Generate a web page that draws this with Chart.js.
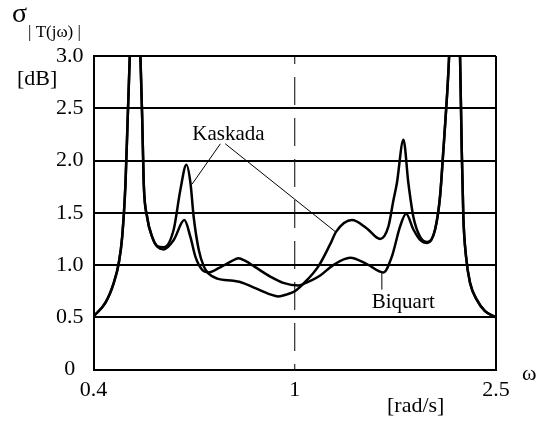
<!DOCTYPE html>
<html>
<head>
<meta charset="utf-8">
<script src="https://cdn.jsdelivr.net/npm/chart.js@4"></script>
<style>
  html, body { margin: 0; padding: 0; background: #fff; }
  #wrap { width: 540px; height: 421px; }
</style>
</head>
<body>
<div id="wrap"><canvas id="myChart" width="540" height="421"></canvas></div>
<script>
// omega [rad/s] and sensitivity [dB]
const kaskadaW = [0.400, 0.4224, 0.4387, 0.4488, 0.4558, 0.4627, 0.4675, 0.4718, 0.4842, 0.4953, 0.4992, 0.5028, 0.5106, 0.5224, 0.5344,
  0.5507, 0.5763, 0.5941, 0.6106, 0.6218, 0.6312, 0.6457, 0.6606, 0.6748, 0.7030, 0.7561, 0.7770, 0.8356, 0.8946, 0.9278, 0.9655, 1.0000,
  1.0394, 1.1143, 1.1752, 1.2077, 1.2971, 1.3887, 1.4752, 1.5320, 1.5672, 1.5916, 1.6402, 1.6779, 1.7164, 1.7696, 1.8293,
  1.8945, 1.9380, 1.9674, 1.9980, 2.0190, 2.0701, 2.1226, 2.1390, 2.1547, 2.1813, 2.2213, 2.2900, 2.3781, 2.5]
const kaskadaDb = [0.51, 0.64, 0.83, 1.02, 1.27, 1.78, 2.42, 2.99, 4.6, 2.99, 2.42, 1.78, 1.46, 1.27, 1.18,
  1.17, 1.34, 1.72, 1.96, 1.79, 1.46, 1.15, 0.99, 0.92, 0.87, 0.85, 0.84, 0.78, 0.72, 0.70, 0.72, 0.75,
  0.82, 0.99, 1.20, 1.32, 1.43, 1.35, 1.25, 1.37, 1.62, 1.78, 2.20, 1.78, 1.46, 1.27, 1.22,
  1.34, 1.66, 2.10, 2.58, 2.99, 4.6, 2.99, 2.10, 1.46, 1.08, 0.83, 0.67, 0.56, 0.50]

const biquartW = [0.400, 0.4224, 0.4387, 0.4488, 0.4558, 0.4627, 0.4675, 0.4718, 0.4842, 0.4953, 0.4992, 0.5028, 0.5106, 0.5224, 0.5344,
  0.5507, 0.5763, 0.6050, 0.6218, 0.6361, 0.6558, 0.6748, 0.7072, 0.7516, 0.7734, 0.7985, 0.8356, 0.8946, 0.9491, 1.0174, 1.0408,
  1.1230, 1.1914, 1.2871, 1.3887, 1.4976, 1.5558, 1.6157, 1.6604, 1.7164, 1.7696, 1.8293,
  1.8945, 1.9380, 1.9674, 1.9980, 2.0190, 2.0701, 2.1226, 2.1390, 2.1547, 2.1813, 2.2213, 2.2900, 2.3781, 2.5]
const biquartDb = [0.51, 0.64, 0.83, 1.02, 1.27, 1.78, 2.42, 2.99, 4.6, 2.99, 2.42, 1.78, 1.46, 1.27, 1.18,
  1.15, 1.24, 1.43, 1.27, 1.08, 0.955, 0.93, 0.97, 1.04, 1.065, 1.04, 0.98, 0.89, 0.83, 0.805, 0.82,
  0.90, 1.00, 1.07, 1.01, 0.93, 1.08, 1.37, 1.49, 1.34, 1.24, 1.21,
  1.34, 1.66, 2.10, 2.58, 2.99, 4.6, 2.99, 2.10, 1.46, 1.08, 0.83, 0.67, 0.56, 0.50]

const xTicks = [0.4, 1, 2.5]
const xTickLabels = ['0.4', '1', '2.5']
const yTicks = [0, 0.5, 1, 1.5, 2, 2.5, 3]
const yTickLabels = ['0', '0.5', '1.0', '1.5', '2.0', '2.5', '3.0']

const toPoints = (w, v) => w.map((x, i) => ({ x: x, y: v[i] }))

const FONT = '"Liberation Serif", "Times New Roman", serif'

// texts and leader lines (leader ends given in omega / dB)
const labelsPlugin = {
  id: 'labels',
  afterDraw(chart) {
    const { ctx, scales: { x, y } } = chart
    const px = (w) => x.getPixelForValue(w)
    const py = (v) => y.getPixelForValue(v)
    ctx.save()
    ctx.fillStyle = '#000'
    ctx.strokeStyle = '#000'
    ctx.textBaseline = 'alphabetic'
    ctx.textAlign = 'left'

    ctx.font = '28px ' + FONT
    ctx.fillText('σ', 12, 22)
    ctx.font = '17px ' + FONT
    ctx.fillText('| T(jω) |', 28, 37)

    ctx.font = '22px ' + FONT
    ctx.fillText('[dB]', 17, 85)
    ctx.fillText('ω', 522, 380)
    ctx.fillText('[rad/s]', 387, 412)

    ctx.font = '21px ' + FONT
    ctx.fillText('Kaskada', px(0.627), py(2.20))
    ctx.fillText('Biquart', px(1.42), py(0.59))

    ctx.lineWidth = 1
    ctx.beginPath()
    ctx.moveTo(px(0.7127), py(2.16))
    ctx.lineTo(px(0.6266), py(1.774))
    ctx.moveTo(px(0.7288), py(2.16))
    ctx.lineTo(px(1.2026), py(1.32))
    ctx.moveTo(px(1.4867), py(0.925))
    ctx.lineTo(px(1.4867), py(0.765))
    ctx.stroke()
    ctx.restore()
  }
}

const curve = {
  fill: false,
  borderColor: '#000',
  borderWidth: 2.5,
  pointRadius: 0,
  cubicInterpolationMode: 'monotone',
  clip: 0
}

new Chart(document.getElementById('myChart').getContext('2d'), {
  type: 'line',
  data: {
    datasets: [
      { label: 'omega = 1', data: [{ x: 1, y: 3 }, { x: 1, y: 0 }], borderColor: '#000', borderWidth: 1,
        borderDash: [28, 13], borderDashOffset: 20, pointRadius: 0, fill: false },
      Object.assign({ label: 'Kaskada', data: toPoints(kaskadaW, kaskadaDb) }, curve),
      Object.assign({ label: 'Biquart', data: toPoints(biquartW, biquartDb) }, curve)
    ]
  },
  options: {
    responsive: false,
    animation: false,
    events: [],
    layout: { padding: { left: 46, right: 44, top: 56, bottom: 11 } },
    plugins: { legend: { display: false }, tooltip: { enabled: false } },
    scales: {
      x: {
        type: 'logarithmic',
        min: 0.4,
        max: 2.5,
        afterBuildTicks: (s) => { s.ticks = xTicks.map(v => ({ value: v })) },
        ticks: {
          autoSkip: false, maxRotation: 0, padding: 7, color: '#000',
          font: { family: FONT, size: 22 },
          callback: (v, i) => xTickLabels[i]
        },
        grid: {
          color: (c) => (c.tick && c.tick.value === 1) ? 'rgba(0,0,0,0)' : '#000',
          lineWidth: 2,
          drawTicks: false
        },
        border: { display: true, color: '#000', width: 2 }
      },
      y: {
        min: 0,
        max: 3,
        afterBuildTicks: (s) => { s.ticks = yTicks.map(v => ({ value: v })) },
        ticks: {
          autoSkip: false, padding: 10, crossAlign: 'center', color: '#000',
          font: { family: FONT, size: 22 },
          callback: (v, i) => yTickLabels[i]
        },
        grid: { color: '#000', lineWidth: 2, drawTicks: false },
        border: { display: true, color: '#000', width: 2 }
      }
    }
  },
  plugins: [labelsPlugin]
})
</script>
</body>
</html>
